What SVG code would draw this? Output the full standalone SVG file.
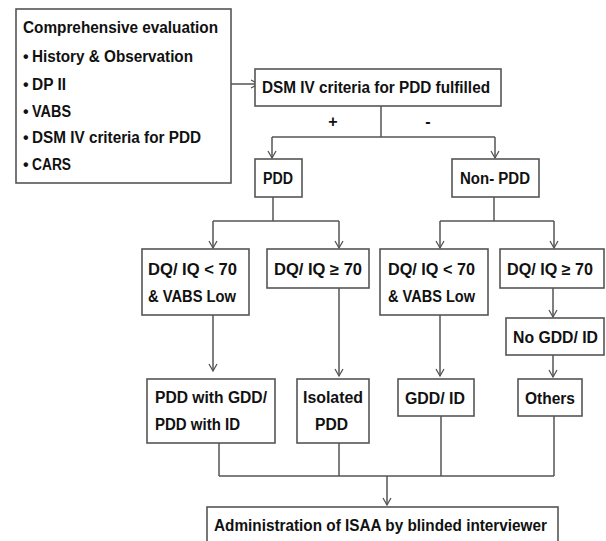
<svg xmlns="http://www.w3.org/2000/svg" width="606" height="541" viewBox="0 0 606 541">
<style>
.box{fill:#fff;stroke:#555;stroke-width:1.6}
.t{font-family:"Liberation Sans",Arial,sans-serif;font-weight:bold;font-size:16px;fill:#111}
.c{fill:none;stroke:#555;stroke-width:1.5}
</style>
<defs>
<marker id="ah" markerUnits="userSpaceOnUse" markerWidth="10" markerHeight="10" refX="8" refY="5" orient="auto">
<path d="M1,1 L8,5 L1,9" fill="none" stroke="#555" stroke-width="1.3"/>
</marker>
</defs>
<rect width="606" height="541" fill="#fff"/>
<g id="connectors">
<path class="c" d="M231,84 H258" marker-end="url(#ah)"/>
<path class="c" d="M381,106 V137 M272,137 H495"/>
<path class="c" d="M272,137 V158" marker-end="url(#ah)"/>
<path class="c" d="M495,137 V158" marker-end="url(#ah)"/>
<path class="c" d="M273,197 V221 M213,221 H339 M494,197 V221 M440,221 H554"/>
<path class="c" d="M213,221 V248" marker-end="url(#ah)"/>
<path class="c" d="M339,221 V248" marker-end="url(#ah)"/>
<path class="c" d="M440,221 V248" marker-end="url(#ah)"/>
<path class="c" d="M554,221 V248" marker-end="url(#ah)"/>
<path class="c" d="M213,315 V371" marker-end="url(#ah)"/>
<path class="c" d="M339,288 V376" marker-end="url(#ah)"/>
<path class="c" d="M440,315 V376" marker-end="url(#ah)"/>
<path class="c" d="M553,288 V317" marker-end="url(#ah)"/>
<path class="c" d="M553,355 V377" marker-end="url(#ah)"/>
<path class="c" d="M219,443 V476 M339,443 V476 M441,416 V476 M554,416 V476 M219,476 H554"/>
<path class="c" d="M387,476 V505" marker-end="url(#ah)"/>
</g>
<g id="eval">
<rect class="box" x="16" y="9" width="215" height="174"/>
<text class="t" x="23" y="33" textLength="195" lengthAdjust="spacingAndGlyphs">Comprehensive evaluation</text>
<text class="t" x="23" y="62">•</text><text class="t" x="32" y="62" textLength="161" lengthAdjust="spacingAndGlyphs">History &amp; Observation</text>
<text class="t" x="23" y="90">•</text><text class="t" x="32" y="90" textLength="34" lengthAdjust="spacingAndGlyphs">DP II</text>
<text class="t" x="23" y="117">•</text><text class="t" x="32" y="117" textLength="39" lengthAdjust="spacingAndGlyphs">VABS</text>
<text class="t" x="23" y="143">•</text><text class="t" x="32" y="143" textLength="169" lengthAdjust="spacingAndGlyphs">DSM IV criteria for PDD</text>
<text class="t" x="23" y="170">•</text><text class="t" x="32" y="170" textLength="39" lengthAdjust="spacingAndGlyphs">CARS</text>
</g>
<g id="dsm">
<rect class="box" x="255" y="69" width="246" height="37"/>
<text class="t" x="262" y="93" textLength="228" lengthAdjust="spacingAndGlyphs">DSM IV criteria for PDD fulfilled</text>
</g>
<g id="labels">
<text class="t" x="333" y="127" text-anchor="middle">+</text>
<text class="t" x="428" y="127" text-anchor="middle">-</text>
</g>
<g id="pdd">
<rect class="box" x="255" y="159" width="47" height="38"/>
<text class="t" x="263" y="184" textLength="30" lengthAdjust="spacingAndGlyphs">PDD</text>
</g>
<g id="nonpdd">
<rect class="box" x="452" y="159" width="87" height="38"/>
<text class="t" x="460" y="184" textLength="70" lengthAdjust="spacingAndGlyphs">Non- PDD</text>
</g>
<g id="pdd-low">
<rect class="box" x="142" y="249" width="107" height="66"/>
<text class="t" x="148" y="275" textLength="89" lengthAdjust="spacingAndGlyphs">DQ/ IQ &lt; 70</text>
<text class="t" x="148" y="302" textLength="88" lengthAdjust="spacingAndGlyphs">&amp; VABS Low</text>
</g>
<g id="pdd-high">
<rect class="box" x="267" y="249" width="102" height="39"/>
<text class="t" x="274" y="275" textLength="88" lengthAdjust="spacingAndGlyphs">DQ/ IQ ≥ 70</text>
</g>
<g id="non-low">
<rect class="box" x="380" y="249" width="108" height="66"/>
<text class="t" x="388" y="275" textLength="87" lengthAdjust="spacingAndGlyphs">DQ/ IQ &lt; 70</text>
<text class="t" x="388" y="302" textLength="87" lengthAdjust="spacingAndGlyphs">&amp; VABS Low</text>
</g>
<g id="non-high">
<rect class="box" x="500" y="249" width="104" height="39"/>
<text class="t" x="507" y="275" textLength="86" lengthAdjust="spacingAndGlyphs">DQ/ IQ ≥ 70</text>
</g>
<g id="nogdd">
<rect class="box" x="506" y="318" width="98" height="37"/>
<text class="t" x="513" y="343" textLength="85" lengthAdjust="spacingAndGlyphs">No GDD/ ID</text>
</g>
<g id="pdd-gdd">
<rect class="box" x="147" y="379" width="128" height="64"/>
<text class="t" x="155" y="403" textLength="112" lengthAdjust="spacingAndGlyphs">PDD with GDD/</text>
<text class="t" x="155" y="430" textLength="85" lengthAdjust="spacingAndGlyphs">PDD with ID</text>
</g>
<g id="isolated">
<rect class="box" x="297" y="379" width="72" height="64"/>
<text class="t" x="303" y="403" textLength="60" lengthAdjust="spacingAndGlyphs">Isolated</text>
<text class="t" x="315" y="430" textLength="33" lengthAdjust="spacingAndGlyphs">PDD</text>
</g>
<g id="gddid">
<rect class="box" x="398" y="379" width="76" height="37"/>
<text class="t" x="405" y="404" textLength="60" lengthAdjust="spacingAndGlyphs">GDD/ ID</text>
</g>
<g id="others">
<rect class="box" x="518" y="379" width="64" height="37"/>
<text class="t" x="525" y="404" textLength="50" lengthAdjust="spacingAndGlyphs">Others</text>
</g>
<g id="isaa">
<rect class="box" x="207" y="507" width="351" height="50"/>
<text class="t" x="214" y="531" textLength="333" lengthAdjust="spacingAndGlyphs">Administration of ISAA by blinded interviewer</text>
</g>
</svg>
